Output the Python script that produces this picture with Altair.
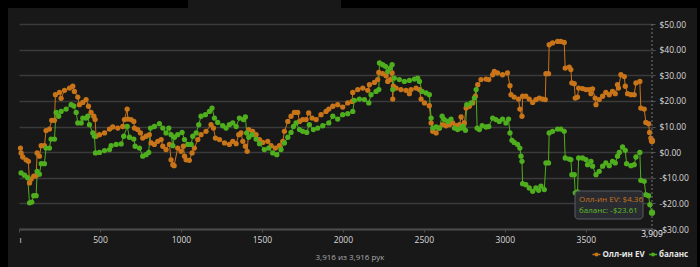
import altair as alt
import pandas as pd

# ---------------- data ----------------
series_names = ["Олл-ин EV", "баланс"]

ev_hands = [9, 13, 23, 44, 58, 65, 75, 91, 106, 112, 126, 137, 157, 167, 188, 202, 219, 225, 250, 260,
            281, 312, 332, 342, 363, 373, 394, 414, 429, 445, 462, 470, 476, 497, 528, 559, 579, 610, 641, 651,
            668, 672, 692, 709, 713, 733, 750, 764, 785, 805, 816, 836, 857, 878, 888, 908, 929, 939, 950, 958,
            980, 1001, 1015, 1022, 1032, 1052, 1069, 1083, 1104, 1124, 1155, 1186, 1201, 1213, 1238, 1269, 1299, 1320, 1341, 1357,
            1371, 1382, 1398, 1409, 1419, 1443, 1464, 1485, 1505, 1536, 1557, 1583, 1608, 1629, 1639, 1660, 1680, 1701, 1721, 1732,
            1752, 1773, 1789, 1810, 1835, 1865, 1896, 1913, 1938, 1968, 1999, 2030, 2057, 2061, 2092, 2123, 2154, 2164, 2195, 2215,
            2222, 2246, 2267, 2277, 2292, 2304, 2308, 2312, 2329, 2359, 2390, 2411, 2421, 2452, 2473, 2483, 2504, 2534, 2545, 2555,
            2576, 2596, 2617, 2637, 2658, 2678, 2699, 2720, 2730, 2750, 2761, 2781, 2802, 2818, 2833, 2853, 2884, 2901, 2925, 2935,
            2955, 2986, 3017, 3032, 3038, 3058, 3085, 3093, 3106, 3110, 3130, 3151, 3172, 3192, 3213, 3233, 3250, 3254, 3270, 3274,
            3295, 3326, 3346, 3367, 3373, 3398, 3408, 3414, 3429, 3435, 3449, 3456, 3480, 3501, 3521, 3532, 3542, 3558, 3563, 3583,
            3604, 3624, 3645, 3665, 3682, 3696, 3702, 3717, 3738, 3744, 3758, 3779, 3799, 3810, 3834, 3840, 3861, 3871, 3888, 3894,
            3902, 3909]
ev_values = [1.6, -0.3, -1.9, -3.0, -3.6, -12.0, -10.5, -9.4, -9.2, -0.3, -1.6, 2.5, 2.5, 8.4, 9.0, 12.4, 12.4, 22.4, 23.3, 21.0,
             24.1, 25.0, 25.7, 23.7, 21.5, 18.5, 19.4, 20.5, 17.9, 15.5, 14.0, 12.7, 6.2, 6.8, 7.5, 9.0, 9.8, 9.4, 10.0, 12.7,
             16.8, 12.9, 12.7, 12.0, 9.4, 8.8, 7.5, 5.5, 6.2, 6.8, 3.6, 3.0, 4.2, 4.9, 2.3, 1.0, 3.0, -3.0, -4.9, -5.3,
             1.6, 0.3, 2.3, -1.6, -3.0, -3.2, -0.3, 1.6, 4.9, 6.8, 8.1, 10.7, 9.4, 5.5, 4.9, 3.6, 3.0, 4.2, 3.3, 6.8,
             7.5, 4.2, 2.3, 0.3, 8.8, 8.1, 6.8, 4.9, 3.8, 4.2, 2.5, 1.6, 2.5, 4.2, 8.1, 12.0, 14.0, 15.5, 15.5, 12.0,
             12.7, 12.7, 15.3, 13.3, 12.7, 14.6, 15.9, 16.8, 17.9, 18.5, 17.6, 19.2, 19.8, 23.3, 24.4, 25.0, 24.1, 26.3, 27.2, 28.3,
             31.1, 30.6, 29.8, 27.6, 28.3, 30.9, 20.7, 25.7, 25.0, 24.4, 24.1, 22.8, 24.4, 25.0, 24.4, 20.7, 19.2, 18.1, 11.4, 8.1,
             7.5, 9.4, 10.7, 10.3, 10.7, 11.4, 10.3, 10.7, 13.7, 11.4, 17.2, 17.9, 19.2, 21.8, 26.3, 28.3, 28.5, 28.3, 30.2, 31.5,
             30.9, 30.2, 30.9, 25.9, 22.4, 21.5, 20.7, 16.8, 14.0, 21.8, 21.8, 20.7, 19.4, 20.5, 21.1, 20.7, 20.5, 30.6, 30.6, 41.9,
             42.6, 43.2, 43.2, 42.8, 32.8, 33.2, 32.2, 27.0, 26.7, 21.1, 21.5, 25.0, 24.8, 24.4, 24.4, 22.8, 24.7, 21.1, 18.5, 20.5,
             21.8, 23.3, 22.4, 23.7, 22.8, 26.3, 25.0, 30.2, 29.5, 25.7, 22.8, 22.4, 22.4, 27.0, 27.6, 17.2, 16.8, 11.6, 11.1, 7.7,
             5.5, 4.36]

bal_hands = [13, 34, 54, 65, 79, 91, 106, 112, 126, 137, 157, 167, 188, 198, 219, 229, 245, 260, 291, 322,
             338, 353, 363, 384, 394, 414, 425, 435, 456, 466, 472, 497, 528, 559, 569, 600, 631, 647, 668, 682,
             709, 717, 744, 764, 785, 801, 812, 836, 867, 888, 908, 925, 939, 950, 960, 980, 1007, 1022, 1042, 1063,
             1073, 1094, 1110, 1124, 1151, 1176, 1192, 1207, 1227, 1258, 1279, 1299, 1320, 1341, 1361, 1386, 1398, 1406, 1419, 1439,
             1464, 1485, 1515, 1542, 1567, 1592, 1618, 1639, 1660, 1680, 1695, 1711, 1732, 1752, 1777, 1793, 1818, 1845, 1876, 1913,
             1938, 1968, 1999, 2030, 2061, 2071, 2102, 2133, 2160, 2174, 2205, 2222, 2226, 2246, 2263, 2277, 2292, 2304, 2308, 2318,
             2349, 2380, 2411, 2442, 2462, 2473, 2489, 2514, 2534, 2545, 2555, 2576, 2596, 2613, 2627, 2648, 2668, 2689, 2709, 2730,
             2740, 2757, 2765, 2792, 2812, 2823, 2829, 2843, 2860, 2884, 2901, 2925, 2945, 2966, 2986, 3007, 3023, 3032, 3044, 3058,
             3079, 3093, 3100, 3106, 3110, 3130, 3151, 3172, 3192, 3209, 3223, 3244, 3254, 3270, 3274, 3295, 3326, 3346, 3367, 3373,
             3398, 3408, 3414, 3429, 3435, 3449, 3456, 3480, 3501, 3511, 3532, 3542, 3563, 3583, 3604, 3624, 3645, 3665, 3682, 3696,
             3707, 3727, 3744, 3752, 3779, 3799, 3810, 3834, 3840, 3861, 3871, 3888, 3896, 3909]
bal_values = [-8.1, -9.0, -10.0, -19.8, -19.5, -17.0, -17.0, -7.5, -8.6, -4.5, -4.5, 1.6, 1.6, 5.1, 5.1, 15.5, 14.0, 15.9, 16.8, 18.5,
              18.0, 15.5, 11.4, 11.4, 13.3, 13.3, 14.0, 10.7, 7.5, 6.2, -0.3, -0.1, 0.6, 1.0, 2.5, 3.0, 3.2, 6.2, 10.0, 5.8,
              5.1, 2.3, 1.6, -1.6, -1.0, -0.1, 9.4, 10.0, 11.1, 9.4, 7.5, 9.4, 6.8, 2.5, 5.8, 6.8, 7.7, 4.9, 3.0, 3.0,
              6.2, 7.5, 10.7, 14.0, 14.6, 15.9, 17.2, 13.3, 11.6, 10.3, 9.4, 10.7, 11.4, 10.0, 13.3, 12.7, 13.7, 7.5, 5.8, 6.8,
              5.1, 3.3, 1.0, 1.6, -0.3, -1.0, 1.0, 3.6, 5.8, 7.7, 10.0, 11.4, 8.8, 8.1, 7.7, 10.7, 8.8, 9.4, 10.3, 11.4,
              14.0, 12.9, 14.6, 15.0, 15.9, 20.2, 20.7, 20.5, 19.2, 22.4, 23.7, 24.4, 34.8, 34.1, 33.5, 31.5, 32.8, 34.1, 24.4, 28.9,
              28.3, 27.6, 28.0, 28.5, 28.9, 27.6, 23.7, 23.1, 22.4, 13.3, 9.4, 9.8, 9.4, 14.0, 12.7, 12.0, 12.9, 9.4, 8.8, 9.4,
              10.0, 8.5, 18.5, 19.2, 21.1, 24.4, 9.4, 8.8, 10.3, 9.8, 10.0, 13.3, 12.7, 12.0, 12.9, 11.4, 12.9, 7.5, 4.6, 3.8,
              3.0, 1.6, -1.6, -3.6, -12.3, -12.7, -14.0, -15.3, -14.0, -14.9, -13.3, -14.6, -4.2, -4.2, 7.5, 8.1, 9.0, 9.0, 8.1, -2.3,
              -2.7, -2.9, -8.8, -8.8, -15.9, -15.5, -2.3, -2.3, -2.9, -4.9, -3.6, -5.5, -8.8, -7.5, -5.5, -4.2, -5.3, -3.6, -4.2, -1.6,
              -0.1, 2.0, 0.7, -4.5, -5.3, -4.9, -1.9, -0.1, -11.0, -11.4, -16.6, -17.0, -20.5, -23.61]

x_ticks = [0, 500, 1000, 1500, 2000, 2500, 3000, 3500]
y_ticks = [-30, -20, -10, 0, 10, 20, 30, 40, 50]
hands_total_text = "3,916 из 3,916 рук"

# ---------------- build tables ----------------
df = pd.concat([
    pd.DataFrame({"hand": ev_hands, "value": ev_values, "series": series_names[0]}),
    pd.DataFrame({"hand": bal_hands, "value": bal_values, "series": series_names[1]}),
], ignore_index=True)

last_hand = max(ev_hands[-1], bal_hands[-1])
last_df = pd.DataFrame({"hand": [ev_hands[-1], bal_hands[-1]],
                        "value": [ev_values[-1], bal_values[-1]],
                        "series": series_names})
cross_df = pd.DataFrame({"hand": [last_hand], "label": [f"{last_hand:,}"]})
one = pd.DataFrame({"k": [0]})

def money(v):
    return ("-$" if v < 0 else "$") + f"{abs(v):.2f}"

tip1 = f"{series_names[0]}: {money(ev_values[-1])}"
tip2 = f"{series_names[1]}: {money(bal_values[-1])}"

# ---------------- style ----------------
W, H = 633, 205
ORANGE = "#C87419"
GREEN = "#4FAE1E"
PANEL = "#181818"
FONT = "Open Sans"
TXT = "#d8d8d8"

xscale = alt.Scale(domain=[0, last_hand], nice=False, zero=False)
yscale = alt.Scale(domain=[-30, 50], nice=False, zero=False)
cscale = alt.Scale(domain=series_names, range=[ORANGE, GREEN])

X = alt.X("hand:Q", scale=xscale, title=None,
          axis=alt.Axis(values=x_ticks, format="d", grid=False, domain=True,
                        domainColor="#4a4a4a", domainWidth=2, ticks=True, tickSize=3,
                        tickColor="#4a4a4a", labelColor=TXT, labelFontSize=8.5, labelFont=FONT,
                        labelPadding=3, labelOverlap=False,
                        labelExpr="datum.value == 0 ? 'ı' : datum.label"))
Y = alt.Y("value:Q", scale=yscale, title=None,
          axis=alt.Axis(orient="right", values=y_ticks, grid=True, gridColor="#3a3a3a",
                        gridWidth=1.5, domain=False, ticks=True, tickSize=3, tickColor="#555555",
                        labelColor=TXT, labelFontSize=8.5, labelFont=FONT, labelPadding=4,
                        labelOverlap=False,
                        labelExpr="datum.value < 0 ? '-$' + format(-datum.value, '.2f') : '$' + format(datum.value, '.2f')"))
C = alt.Color("series:N", scale=cscale, legend=None)

# black frame strips around the panel (chart background is the panel colour)
strips = [
    (-19, -11, -24, 243),   # left strip
    (-19, 169, -24, -16),   # top strip, left of the tab
    (322, 681, -24, -16),   # top strip, right of the tab
    (678, 681, -24, 243),   # right strip
]
frame = [alt.Chart(one).mark_rect(fill="#000000").encode(
    x=alt.value(a), x2=alt.value(b), y=alt.value(c), y2=alt.value(d)) for a, b, c, d in strips]

base = alt.Chart(df)
lines = base.mark_line(strokeWidth=1).encode(x=X, y=Y, color=C, detail="series:N")
points = base.mark_circle(size=28, opacity=1).encode(x=X, y=Y, color=C)

cross = alt.Chart(cross_df).mark_rule(color="#777777", strokeDash=[2, 2], strokeWidth=1).encode(
    x=X, y=alt.value(0), y2=alt.value(H))
cross_lbl = alt.Chart(cross_df).mark_text(color="#eeeeee", fontSize=8.5, font=FONT, baseline="middle").encode(
    x=X, y=alt.value(H + 5), text="label:N")

hover = alt.Chart(last_df).mark_circle(size=40, opacity=1).encode(x=X, y=Y, color=C)

tip_box = alt.Chart(one).mark_rect(fill="#2a2d33", stroke="#5d6168", strokeWidth=1, cornerRadius=3,
                                   opacity=0.95).encode(
    x=alt.value(556), x2=alt.value(624), y=alt.value(167), y2=alt.value(195))
tip_t1 = alt.Chart(one).mark_text(text=tip1, color=ORANGE, fontSize=8, font=FONT, align="left",
                                  baseline="middle").encode(x=alt.value(560), y=alt.value(176))
tip_t2 = alt.Chart(one).mark_text(text=tip2, color="#5cbb2a", fontSize=8, font=FONT, align="left",
                                  baseline="middle").encode(x=alt.value(560), y=alt.value(187))

footer = alt.Chart(one).mark_text(text=hands_total_text, color="#aaaaaa", fontSize=8, font=FONT,
                                  align="center", baseline="middle").encode(x=alt.value(331), y=alt.value(233.5))

leg = []
for (x0, name, col) in [(573.5, series_names[0], ORANGE), (630, series_names[1], GREEN)]:
    leg.append(alt.Chart(one).mark_rule(color=col, strokeWidth=1.5).encode(
        x=alt.value(x0), x2=alt.value(x0 + 8), y=alt.value(230.5)))
    leg.append(alt.Chart(one).mark_circle(color=col, size=16, opacity=1).encode(
        x=alt.value(x0 + 4), y=alt.value(230.5)))
    leg.append(alt.Chart(one).mark_text(text=name, color="#e6e6e6", fontSize=8, fontWeight="bold",
                                        font=FONT, align="left", baseline="middle").encode(
        x=alt.value(x0 + 10), y=alt.value(230.5)))

chart = alt.layer(*frame, lines, points, cross, hover, tip_box, tip_t1, tip_t2,
                  cross_lbl, footer, *leg).properties(
    width=W, height=H,
    padding={"left": 19, "top": 24, "right": 48, "bottom": 38},
    autosize=alt.AutoSizeParams(type="none"),
    background=PANEL,
).configure_view(stroke=None)

chart.save("out.html", embed_options={"renderer": "svg", "actions": False})
